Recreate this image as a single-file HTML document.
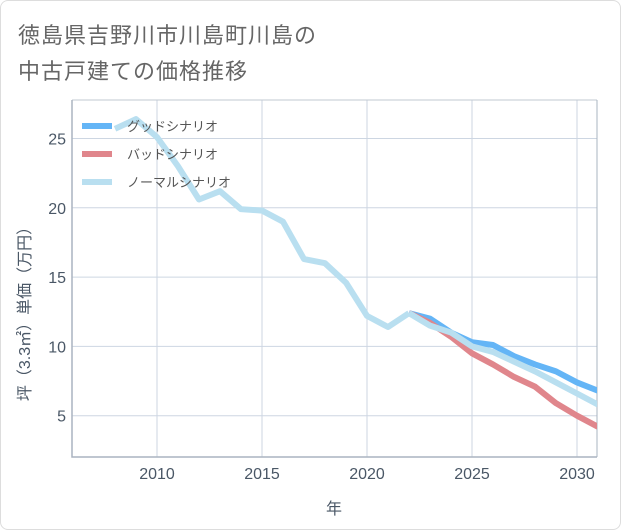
<!DOCTYPE html>
<html><head><meta charset="utf-8">
<style>
body{margin:0;background:#fff;}
#wrap{position:relative;width:619px;height:528px;border:1px solid #ddd;border-radius:8px;overflow:hidden;background:#fff;font-family:"Liberation Sans","Noto Sans CJK JP",sans-serif;}
.title{position:absolute;left:17px;font-size:22px;color:#666;letter-spacing:1px;white-space:nowrap;}
</style></head>
<body>
<div id="wrap">
<div class="title" style="top:17px">徳島県吉野川市川島町川島の</div>
<div class="title" style="top:53px">中古戸建ての価格推移</div>
<svg id="chart" width="621" height="530" style="position:absolute;left:-1px;top:-1px"></svg>
</div>
<script>
const years=[2008,2009,2010,2011,2012,2013,2014,2015,2016,2017,2018,2019,2020,2021,2022];
const normalPast=[25.7,26.4,25.1,23.0,20.6,21.2,19.9,19.8,19.0,16.3,16.0,14.6,12.2,11.4,12.4];
const futureYears=[2022,2023,2024,2025,2026,2027,2028,2029,2030,2031];
const goodVals=[12.4,12.0,11.0,10.3,10.1,9.3,8.7,8.2,7.4,6.8];
const badVals=[12.4,11.7,10.7,9.5,8.7,7.8,7.1,5.9,5.0,4.2];
const normalVals=[12.4,11.5,11.0,10.0,9.6,8.9,8.2,7.4,6.6,5.8];
const xTicks=[2010,2015,2020,2025,2030];
const yTicks=[5,10,15,20,25];
const legendLabels=["グッドシナリオ","バッドシナリオ","ノーマルシナリオ"];
const colors=["#64b5f6","#e0868c","#b9dff0"];

const svg=document.getElementById('chart');
const NS='http://www.w3.org/2000/svg';
const L=72,R=597,T=100,B=457;
const x=v=>157+(v-2010)*21;
const y=v=>485-v*13.86;
const TXT='#4a5766';
function mk(tag,attrs){const e=document.createElementNS(NS,tag);for(const k in attrs)e.setAttribute(k,attrs[k]);svg.appendChild(e);return e;}

for(const t of xTicks){
  const g=mk('line',{x1:x(t),x2:x(t),y1:T,y2:B,stroke:'#cdd6e2','stroke-width':1});
  
  
  const tx=mk('text',{x:x(t),y:B+22,'text-anchor':'middle','font-size':16,fill:TXT});
  tx.textContent=t;
  
  
}
for(const t of yTicks){
  const g=mk('line',{x1:L,x2:R,y1:y(t),y2:y(t),stroke:'#cdd6e2','stroke-width':1});
  
  
  const tx=mk('text',{x:L-6,y:y(t)+6,'text-anchor':'end','font-size':16,fill:TXT});
  tx.textContent=t;
  
  
}
const tb=mk('line',{x1:L,x2:R,y1:T,y2:T,stroke:'#c0c8d2','stroke-width':1});


const ax=mk('path',{d:`M${L} ${T}V${B}H${R}`,fill:'none',stroke:'#aab4c0','stroke-width':1.5});


const rb=mk('line',{x1:R,x2:R,y1:T,y2:B,stroke:'#aab4c0','stroke-width':1});



const xt=mk('text',{x:334,y:514,'text-anchor':'middle','font-size':16,fill:TXT});
xt.textContent='年';


const yt=mk('text',{x:0,y:0,'text-anchor':'middle','font-size':16,fill:TXT,transform:'translate(30,310) rotate(-90)'});
yt.textContent='坪（3.3㎡）単価（万円）';



const cp=mk('clipPath',{id:'cp'});
const cr=document.createElementNS(NS,'rect');cr.setAttribute('x',L);cr.setAttribute('y',T);cr.setAttribute('width',R-L);cr.setAttribute('height',B-T);cp.appendChild(cr);
const g=mk('g',{'clip-path':'url(#cp)'});
function lineIn(xs,vs,c,name){
  const d=xs.map((v,i)=>(i?'L':'M')+x(v)+' '+y(vs[i])).join('');
  const p=document.createElementNS(NS,'path');
  p.setAttribute('d',d);p.setAttribute('fill','none');p.setAttribute('stroke',c);p.setAttribute('stroke-width',6);p.setAttribute('stroke-linejoin','round');
  
  
  g.appendChild(p);
}
lineIn(futureYears,goodVals,colors[0],'good-scenario-line');
lineIn(futureYears,badVals,colors[1],'bad-scenario-line');
lineIn(years,normalPast,colors[2],'normal-past-line');
lineIn(futureYears,normalVals,colors[2],'normal-scenario-line');

legendLabels.forEach((lab,i)=>{
  const ly=126+i*28;
  const s=mk('line',{x1:82,x2:112,y1:ly,y2:ly,stroke:colors[i],'stroke-width':6});
  
  
  const t=mk('text',{x:127,y:ly+5,'font-size':13,fill:'#555'});
  t.textContent=lab;
  
  
});
</script>
</body></html>
